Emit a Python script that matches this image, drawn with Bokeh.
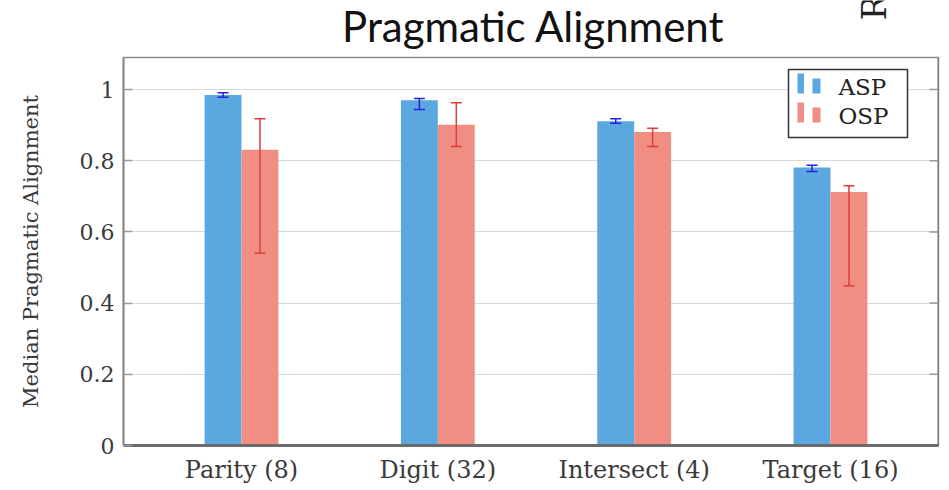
from bokeh.plotting import figure
from bokeh.models import (ColumnDataSource, Whisker, TeeHead, FixedTicker,
                          Label, Range1d)
from bokeh.layouts import column
from bokeh.embed import file_html
from bokeh.resources import INLINE

# Median pragmatic alignment per task, with error ranges
tasks = ["Parity (8)", "Digit (32)", "Intersect (4)", "Target (16)"]
asp_median = [0.985, 0.970, 0.911, 0.781]
asp_lower = [0.978, 0.944, 0.905, 0.770]
asp_upper = [0.991, 0.975, 0.918, 0.787]
osp_median = [0.831, 0.901, 0.881, 0.712]
osp_lower = [0.540, 0.840, 0.840, 0.449]
osp_upper = [0.918, 0.963, 0.891, 0.730]
y_ticks = [0, 0.2, 0.4, 0.6, 0.8, 1.0]
y_tick_labels = ["0", "0.2", "0.4", "0.6", "0.8", "1"]

ASP_COLOR = "#5ba8e0"
OSP_COLOR = "#f08e83"
ASP_ERR = "#2323d8"
OSP_ERR = "#e43a3c"
SERIF = "DejaVu Serif"

BAR_W = 0.188
X_RANGE = (-0.601, 3.55)
Y_RANGE = (0.0, 1.09)

W = 949
HEAD_H = 56
MAIN_H = 434
FX0, FX1, FY0, FY1 = 123, 938, 57, 445   # frame edges in page pixels

# ---- header strip: title and the clipped rotated letter ----
# its frame shares the main chart's left/right borders; ranges map 1:1 to pixels
head = figure(width=W, height=HEAD_H, x_range=Range1d(FX0, FX1),
              y_range=Range1d(HEAD_H, 0), x_axis_type=None, y_axis_type=None,
              output_backend="svg", toolbar_location=None, title=None,
              min_border_left=FX0, min_border_right=W - FX1,
              min_border_top=0, min_border_bottom=0)
head.outline_line_color = None
head.grid.grid_line_color = None
head.add_layout(Label(x=533, y=25, text="Pragmatic Alignment", text_font="Lato",
                      text_font_size="42px", text_color="#111111",
                      text_align="center", text_baseline="middle"))
head.add_layout(Label(x=873, y=7, text="R", angle=1.5708, text_font=SERIF,
                      text_font_size="34px", text_color="#222222",
                      text_align="center", text_baseline="middle"))

# ---- main bar chart ----
p = figure(width=W, height=MAIN_H, x_range=X_RANGE, y_range=Y_RANGE,
           output_backend="svg", toolbar_location=None, title=None,
           min_border_left=FX0, min_border_right=W - FX1,
           min_border_top=1, min_border_bottom=45)

p.outline_line_color = "#8c8c8c"
p.outline_line_width = 1.5
p.background_fill_color = "white"
p.border_fill_color = "white"

idx = list(range(len(tasks)))
asp_src = ColumnDataSource(dict(x=[i - BAR_W / 2 for i in idx], top=asp_median,
                                lower=asp_lower, upper=asp_upper))
osp_src = ColumnDataSource(dict(x=[i + BAR_W / 2 for i in idx], top=osp_median,
                                lower=osp_lower, upper=osp_upper))

p.vbar(x="x", top="top", width=BAR_W, source=asp_src,
       fill_color=ASP_COLOR, line_color=None)
p.vbar(x="x", top="top", width=BAR_W, source=osp_src,
       fill_color=OSP_COLOR, line_color=None)

for src, col in ((asp_src, ASP_ERR), (osp_src, OSP_ERR)):
    w = Whisker(base="x", lower="lower", upper="upper", source=src,
                level="overlay", line_color=col, line_width=1.5,
                upper_head=TeeHead(size=11, line_color=col, line_width=1.5),
                lower_head=TeeHead(size=11, line_color=col, line_width=1.5))
    p.add_layout(w)

# grid
p.xgrid.grid_line_color = None
p.ygrid.ticker = FixedTicker(ticks=y_ticks)
p.ygrid.grid_line_color = "#dadada"
p.ygrid.grid_line_width = 1.2
p.ygrid.level = "underlay"

# left axis
ya = p.yaxis[0]
ya.ticker = FixedTicker(ticks=y_ticks)
ya.major_label_overrides = {t: l for t, l in zip(y_ticks, y_tick_labels)}
ya.major_label_text_font = SERIF
ya.major_label_text_font_size = "22px"
ya.major_label_text_color = "#3a3a3a"
ya.major_label_standoff = 9
ya.major_tick_in = 9
ya.major_tick_out = 0
ya.minor_tick_in = 0
ya.minor_tick_out = 0
ya.major_tick_line_color = "#9a9a9a"
ya.major_tick_line_width = 1.5
ya.axis_line_color = "#8a8a8a"
ya.axis_line_width = 2
ya.axis_label = "Median Pragmatic Alignment"
ya.axis_label_text_font = SERIF
ya.axis_label_text_font_size = "21px"
ya.axis_label_text_font_style = "normal"
ya.axis_label_text_color = "#3a3a3a"
ya.axis_label_standoff = 34

# bottom axis with task names
xa = p.xaxis[0]
xa.ticker = FixedTicker(ticks=idx)
xa.major_label_overrides = {i: t for i, t in zip(idx, tasks)}
xa.major_label_text_font = SERIF
xa.major_label_text_font_size = "24px"
xa.major_label_text_color = "#3a3a3a"
xa.major_label_standoff = 10
xa.major_tick_in = 0
xa.major_tick_out = 0
xa.minor_tick_in = 0
xa.minor_tick_out = 0
xa.axis_line_color = "#6a6a6a"
xa.axis_line_width = 3


# frame pixel offsets converted to data space (for ticks on the right and the legend)
def dx(px):
    return X_RANGE[0] + (px - FX0) * (X_RANGE[1] - X_RANGE[0]) / (FX1 - FX0)


def dy(py):
    return Y_RANGE[0] + (FY1 - py) * (Y_RANGE[1] - Y_RANGE[0]) / (FY1 - FY0)


# inward ticks on the right side of the frame
p.segment(x0=[dx(FX1 - 9)] * len(y_ticks), x1=[dx(FX1)] * len(y_ticks),
          y0=y_ticks, y1=y_ticks, line_color="#9a9a9a", line_width=1.5)
p.segment(x0=[dx(FX1)], x1=[dx(FX1)], y0=[Y_RANGE[0]], y1=[Y_RANGE[1]],
          line_color="#7a7a7a", line_width=2)

# legend
p.quad(left=[dx(788)], right=[dx(907)], top=[dy(69)], bottom=[dy(137)],
       fill_color="white", line_color="#333333", line_width=1.5)
for (ty, col, name) in ((93, ASP_COLOR, "ASP"), (122, OSP_COLOR, "OSP")):
    p.quad(left=[dx(797), dx(812)], right=[dx(803.5), dx(820)],
           top=[dy(ty - 20), dy(ty - 15)], bottom=[dy(ty), dy(ty)],
           fill_color=col, line_color=None)
    p.add_layout(Label(x=dx(838), y=dy(ty - 7), text=name, text_font=SERIF,
                       text_font_size="23px", text_color="#222222",
                       text_baseline="middle", text_align="left"))

layout = column(head, p, spacing=0)
open("out.html", "w").write(file_html(layout, INLINE))
